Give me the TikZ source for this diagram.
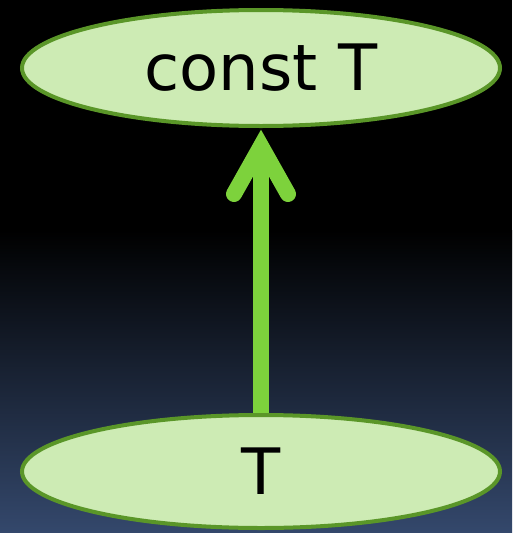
\documentclass[tikz,border=0pt]{standalone}
\usepackage{fontspec}
\setmainfont{DejaVu Sans}
\usetikzlibrary{shapes.geometric,calc}
\definecolor{nodefill}{RGB}{205,235,180}
\definecolor{nodeline}{RGB}{90,150,40}
\definecolor{arrowgreen}{RGB}{125,210,60}
\definecolor{bgbottom}{RGB}{52,72,108}
\pgfdeclarelayer{bg}
\pgfsetlayers{bg,main}
\tikzset{
  oval/.style={ellipse, draw=nodeline, line width=4pt, fill=nodefill, inner sep=0pt,
    minimum width=478pt, font=\fontsize{64}{72}\selectfont, text=black},
  shaft/.style={draw=arrowgreen, line width=16pt},
  barb/.style={draw=arrowgreen, line width=16pt, line cap=round, line join=miter}
}
\begin{document}
\begin{tikzpicture}[x=1pt,y=-1pt]
\useasboundingbox (0,0) rectangle (512,533);
\node[oval, minimum height=116pt] (a) at (261,68) {const T};
\node[oval, minimum height=113pt] (b) at (261,471.5) {T};
\coordinate (v) at ($(a.south)+(0,18)$);
\coordinate (l) at ($(a.south)+(-27,66)$);
\coordinate (r) at ($(a.south)+(27,66)$);
\begin{pgfonlayer}{bg}
\fill[black] (0,0) rectangle (512,231);
\shade[top color=black, bottom color=bgbottom] (0,230) rectangle (512,533);
\draw[shaft] (b.north) -- (v);
\draw[barb] (l) -- (v) -- (r);
\end{pgfonlayer}
\end{tikzpicture}
\end{document}
